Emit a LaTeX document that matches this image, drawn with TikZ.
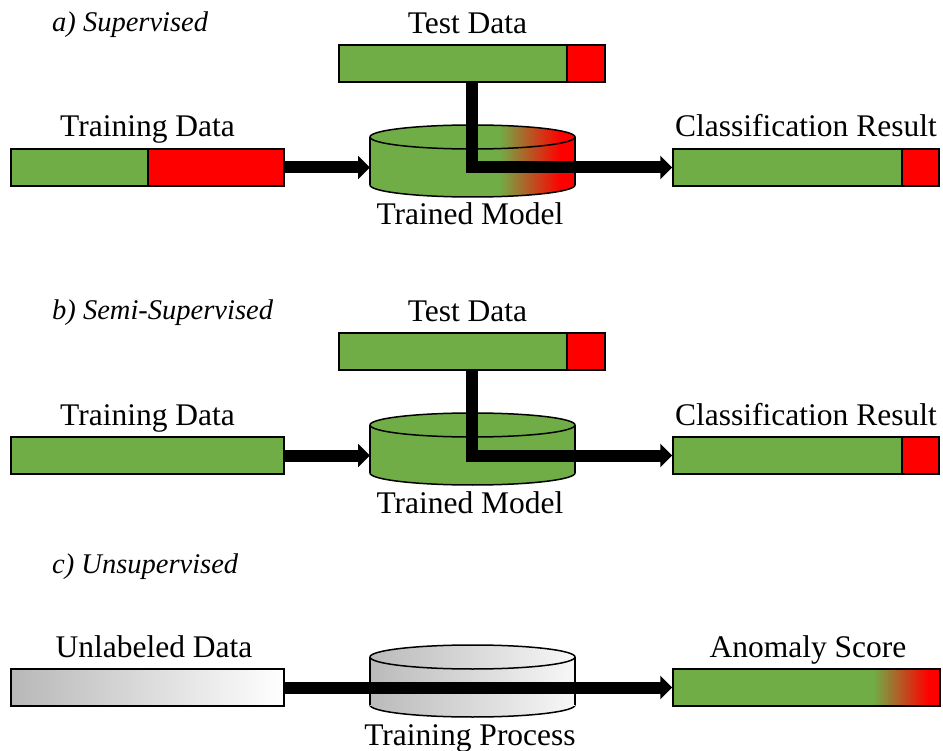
\documentclass[tikz,border=0pt]{standalone}
\usepackage{fontspec}
\setmainfont{Liberation Serif}
\usetikzlibrary{arrows.meta}
\definecolor{gr}{HTML}{70AD47}
\definecolor{rd}{HTML}{FF0000}
\pgfdeclarehorizontalshading{gr2rdcyl}{100bp}{color(0bp)=(gr); color(56.5bp)=(gr); color(71.5bp)=(rd); color(100bp)=(rd)}
\pgfdeclarehorizontalshading{gr2rdbar}{100bp}{color(0bp)=(gr); color(62.5bp)=(gr); color(72.8bp)=(rd); color(100bp)=(rd)}
\pgfdeclarehorizontalshading{graycyl}{100bp}{color(0bp)=(black!27); color(25bp)=(black!27); color(75bp)=(black!3); color(100bp)=(black!3)}
\pgfdeclarehorizontalshading{graybar}{100bp}{color(0bp)=(black!28); color(25bp)=(black!28); color(75bp)=(white); color(100bp)=(white)}
\begin{document}
\begin{tikzpicture}[x=1pt,y=-1pt,
  bar/.style={draw=black, line width=1.5pt, inner sep=0pt, minimum height=37pt},
  greenpart/.style={path picture={
      \fill[gr] (path picture bounding box.north west) rectangle ([xshift=#1]path picture bounding box.south west);
      \draw[line width=1.5pt] ([xshift=#1]path picture bounding box.north west) -- ([xshift=#1]path picture bounding box.south west);}},
  lbl/.style={font=\fontsize{31.5}{36}\selectfont, inner sep=0pt, anchor=base},
  ttl/.style={font=\fontsize{28.5}{32}\selectfont\itshape, inner sep=0pt, anchor=base west},
  flow/.style={line width=12pt, line join=miter, -{Triangle[length=12pt,width=23pt]}},
  cylout/.style={draw=black, line width=1.5pt}]
\useasboundingbox (0,0) rectangle (943,751);

% ---------------- a) Supervised ----------------
\node[ttl] (ttlA) at (52,32) {a) Supervised};
\node[lbl] (lblTestA) at (467.5,34) {Test Data};
\node[bar, fill=rd, minimum width=266pt, greenpart=228pt] (testA) at (472,63.5) {};
\node[lbl] (lblTrainA) at (147.5,137) {Training Data};
\node[bar, fill=rd, minimum width=273pt, greenpart=137pt] (trainA) at (147.5,167.5) {};
\node[lbl] (lblClassA) at (806,137) {Classification Result};
\node[bar, fill=rd, minimum width=266pt, greenpart=229pt] (classA) at (806,167.5) {};
\coordinate (cylA) at (370,167.5);
\draw[flow] (trainA.east) -- (cylA);
% cylinder a
\shade[shading=gr2rdcyl, cylout] (472.5,185) ellipse[x radius=102.5, y radius=12];
\shade[shading=gr2rdcyl] (370,137) rectangle (575,185);
\draw[line width=1.5pt] (370,137) -- (370,185) (575,137) -- (575,185);
\shade[shading=gr2rdcyl, cylout] (472.5,137) ellipse[x radius=102.5, y radius=12];
\node[lbl] (lblModelA) at (470,225) {Trained Model};
\draw[flow] (testA.south) |- (classA.west);

% ---------------- b) Semi-Supervised ----------------
\node[ttl] (ttlB) at (52,320) {b) Semi-Supervised};
\node[lbl] (lblTestB) at (467.5,322) {Test Data};
\node[bar, fill=rd, minimum width=266pt, greenpart=228pt] (testB) at (472,351.5) {};
\node[lbl] (lblTrainB) at (147.5,425) {Training Data};
\node[bar, fill=gr, minimum width=273pt] (trainB) at (147.5,455.5) {};
\node[lbl] (lblClassB) at (806,425) {Classification Result};
\node[bar, fill=rd, minimum width=266pt, greenpart=229pt] (classB) at (806,455.5) {};
\coordinate (cylB) at (370,455.5);
\draw[flow] (trainB.east) -- (cylB);
% cylinder b
\filldraw[fill=gr, cylout] (472.5,473) ellipse[x radius=102.5, y radius=12];
\fill[gr] (370,425) rectangle (575,473);
\draw[line width=1.5pt] (370,425) -- (370,473) (575,425) -- (575,473);
\filldraw[fill=gr, cylout] (472.5,425) ellipse[x radius=102.5, y radius=12];
\node[lbl] (lblModelB) at (470,513) {Trained Model};
\draw[flow] (testB.south) |- (classB.west);

% ---------------- c) Unsupervised ----------------
\node[ttl] (ttlC) at (52,573) {c) Unsupervised};
\node[lbl] (lblUnl) at (154,657) {Unlabeled Data};
\node[bar, shade, shading=graybar, minimum width=273pt] (unl) at (147.5,687.5) {};
\node[lbl] (lblAnom) at (808,657) {Anomaly Score};
\node[bar, shade, shading=gr2rdbar, minimum width=267pt] (anom) at (806.5,687.5) {};
% cylinder c
\shade[shading=graycyl, cylout] (472.5,705) ellipse[x radius=102.5, y radius=12];
\shade[shading=graycyl] (370,657) rectangle (575,705);
\draw[line width=1.5pt] (370,657) -- (370,705) (575,657) -- (575,705);
\shade[shading=graycyl, cylout] (472.5,657) ellipse[x radius=102.5, y radius=12];
\node[lbl] (lblProc) at (470,745) {Training Process};
\draw[flow] (unl.east) -- (anom.west);
\end{tikzpicture}
\end{document}
